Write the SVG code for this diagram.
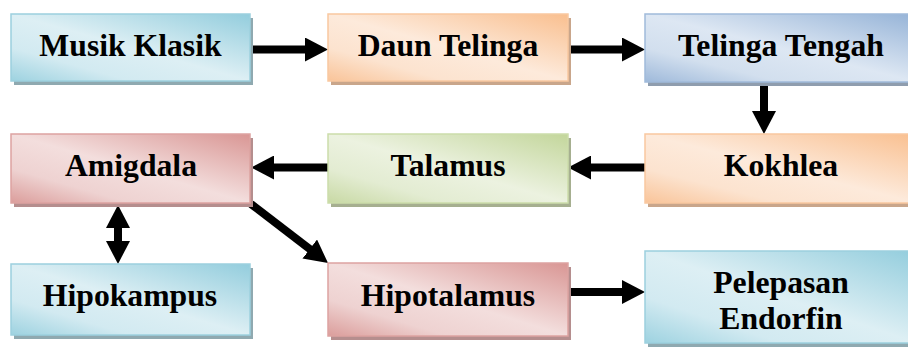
<svg xmlns="http://www.w3.org/2000/svg" width="908" height="354" viewBox="0 0 908 354">
<style>
text{font-family:'Liberation Serif', 'Times New Roman', Times, serif;font-weight:700;font-size:31.7px;fill:#000;text-anchor:middle}
.conn{stroke:#000;stroke-width:8;fill:none}
.blue .box{fill:url(#gBlue);stroke:#9CD0DE;stroke-width:1.5}
.blue .sh{fill:#8FA9B0}
.orange .box{fill:url(#gOrange);stroke:#F9C8A0;stroke-width:1.5}
.orange .sh{fill:#C9A68B}
.steel .box{fill:url(#gSteel);stroke:#A0BADA;stroke-width:1.5}
.steel .sh{fill:#8F9DAE}
.red .box{fill:url(#gRed);stroke:#DDA3A1;stroke-width:1.5}
.red .sh{fill:#B58E8E}
.green .box{fill:url(#gGreen);stroke:#CCDDAA;stroke-width:1.5}
.green .sh{fill:#A6AF90}
</style>
<defs>
<linearGradient id="gBlue" x1="1" y1="0" x2="0" y2="1">
<stop offset="0" stop-color="#93CDDD"/><stop offset="0.5" stop-color="#DDEFF4"/><stop offset="0.75" stop-color="#D2EAF1"/><stop offset="1" stop-color="#9DD2E0"/>
</linearGradient>
<linearGradient id="gOrange" x1="1" y1="0" x2="0" y2="1">
<stop offset="0" stop-color="#F9BF8F"/><stop offset="0.5" stop-color="#FDEADB"/><stop offset="0.75" stop-color="#FCE3CF"/><stop offset="1" stop-color="#F9C499"/>
</linearGradient>
<linearGradient id="gSteel" x1="1" y1="0" x2="0" y2="1">
<stop offset="0" stop-color="#95B3D7"/><stop offset="0.5" stop-color="#DDE7F3"/><stop offset="0.75" stop-color="#D2DFEE"/><stop offset="1" stop-color="#9EB9DA"/>
</linearGradient>
<linearGradient id="gRed" x1="1" y1="0" x2="0" y2="1">
<stop offset="0" stop-color="#D99694"/><stop offset="0.5" stop-color="#F3DEDD"/><stop offset="0.75" stop-color="#EED2D1"/><stop offset="1" stop-color="#DB9D9B"/>
</linearGradient>
<linearGradient id="gGreen" x1="1" y1="0" x2="0" y2="1">
<stop offset="0" stop-color="#C3D69B"/><stop offset="0.5" stop-color="#ECF2E0"/><stop offset="0.75" stop-color="#E3ECD2"/><stop offset="1" stop-color="#C8D9A4"/>
</linearGradient>
<marker id="ah" viewBox="0 0 23 24" refX="8" refY="12" markerWidth="23" markerHeight="24" markerUnits="userSpaceOnUse" orient="auto-start-reverse">
<path d="M0,0 L23,12 L0,24 z" fill="#000"/>
</marker>
</defs>

<g id="connectors">
<path class="conn" d="M252 49.5 L313 49.5" marker-end="url(#ah)"/>
<path class="conn" d="M570 49.5 L630 49.5" marker-end="url(#ah)"/>
<path class="conn" d="M764 84 L764 119" marker-end="url(#ah)"/>
<path class="conn" d="M645 167.5 L583 167.5" marker-end="url(#ah)"/>
<path class="conn" d="M328 167.5 L266 167.5" marker-end="url(#ah)"/>
<path class="conn" d="M118 220 L118 249" marker-start="url(#ah)" marker-end="url(#ah)"/>
<path class="conn" d="M251 204 L316.1 253.9" marker-end="url(#ah)"/>
<path class="conn" d="M570 292 L630 292" marker-end="url(#ah)"/>
</g>

<g id="musik-klasik" class="blue">
<rect class="sh" x="14" y="18" width="239" height="67"/>
<rect class="box" x="11" y="14" width="239" height="67"/>
<text x="130.5" y="56">Musik Klasik</text>
</g>
<g id="daun-telinga" class="orange">
<rect class="sh" x="331" y="18" width="240" height="67"/>
<rect class="box" x="328" y="14" width="240" height="67"/>
<text x="448" y="56">Daun Telinga</text>
</g>
<g id="telinga-tengah" class="steel">
<rect class="sh" x="648" y="18" width="272" height="68"/>
<rect class="box" x="645" y="14" width="272" height="68"/>
<text x="781" y="56">Telinga Tengah</text>
</g>
<g id="amigdala" class="red">
<rect class="sh" x="14" y="138" width="239" height="69"/>
<rect class="box" x="11" y="134" width="239" height="69"/>
<text x="131" y="176">Amigdala</text>
</g>
<g id="talamus" class="green">
<rect class="sh" x="331" y="138" width="240" height="69"/>
<rect class="box" x="328" y="134" width="240" height="69"/>
<text x="448" y="176">Talamus</text>
</g>
<g id="kokhlea" class="orange">
<rect class="sh" x="648" y="138" width="272" height="69"/>
<rect class="box" x="645" y="134" width="272" height="69"/>
<text x="781" y="176">Kokhlea</text>
</g>
<g id="hipokampus" class="blue">
<rect class="sh" x="14" y="268" width="239" height="71"/>
<rect class="box" x="11" y="264" width="239" height="71"/>
<text x="130" y="306">Hipokampus</text>
</g>
<g id="hipotalamus" class="red">
<rect class="sh" x="331" y="267" width="240" height="73"/>
<rect class="box" x="328" y="263" width="240" height="73"/>
<text x="448" y="306">Hipotalamus</text>
</g>
<g id="pelepasan-endorfin" class="blue">
<rect class="sh" x="648" y="255" width="272" height="92"/>
<rect class="box" x="645" y="251" width="272" height="92"/>
<text x="781" y="293">Pelepasan</text>
<text x="781" y="329">Endorfin</text>
</g>
</svg>
